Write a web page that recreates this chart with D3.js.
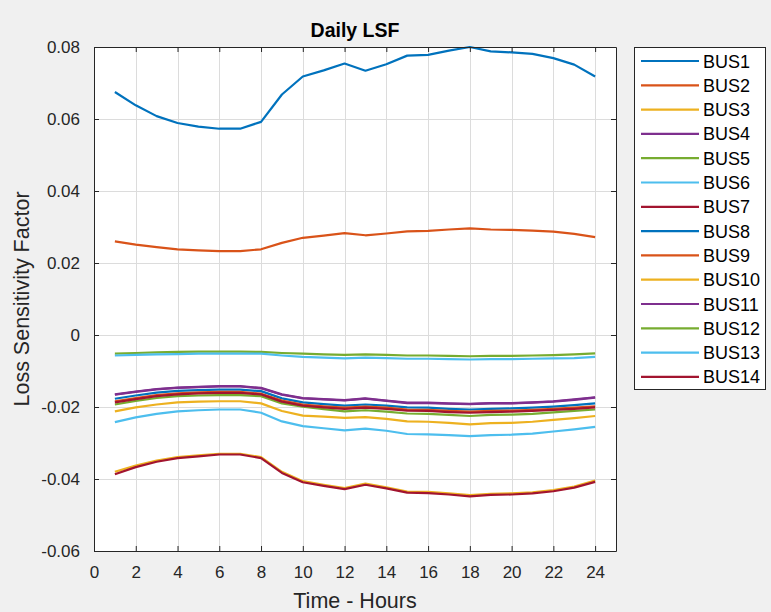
<!DOCTYPE html>
<html>
<head>
<meta charset="utf-8">
<script src="https://cdn.jsdelivr.net/npm/d3@7"></script>
<style>
  html, body { margin: 0; padding: 0; background: #f0f0f0; }
  svg { display: block; font-family: "Liberation Sans", Arial, sans-serif; }
</style>
</head>
<body>
<svg id="chart" width="771" height="612"></svg>
<script>
// Hours of the day
const hours = d3.range(1, 25);

// Loss sensitivity factor per bus, hour 1..24
const bus1  = [0.0675,0.0638,0.0608,0.0589,0.0579,0.0573,0.0573,0.0592,0.0668,0.0718,0.0735,0.0754,0.0734,0.0752,0.0776,0.0778,0.0790,0.0800,0.0788,0.0785,0.0781,0.0769,0.0751,0.0718];
const bus2  = [0.0260,0.0251,0.0244,0.0238,0.0235,0.0233,0.0233,0.0238,0.0256,0.0270,0.0276,0.0283,0.0277,0.0282,0.0288,0.0289,0.0293,0.0296,0.0293,0.0292,0.0290,0.0287,0.0281,0.0272];
const bus3  = [-0.0380,-0.0363,-0.0349,-0.0339,-0.0334,-0.0330,-0.0330,-0.0339,-0.0380,-0.0406,-0.0416,-0.0425,-0.0413,-0.0423,-0.0435,-0.0436,-0.0440,-0.0445,-0.0441,-0.0440,-0.0437,-0.0431,-0.0421,-0.0404];
const bus4  = [-0.0165,-0.0157,-0.0150,-0.0146,-0.0144,-0.0142,-0.0142,-0.0147,-0.0165,-0.0175,-0.0178,-0.0181,-0.0176,-0.0182,-0.0188,-0.0188,-0.0190,-0.0191,-0.0189,-0.0189,-0.0187,-0.0184,-0.0179,-0.0173];
const bus5  = [-0.0052,-0.0050,-0.0048,-0.0047,-0.0046,-0.0046,-0.0046,-0.0047,-0.0050,-0.0052,-0.0054,-0.0055,-0.0054,-0.0055,-0.0057,-0.0057,-0.0058,-0.0059,-0.0058,-0.0058,-0.0057,-0.0056,-0.0054,-0.0051];
const bus6  = [-0.0057,-0.0055,-0.0054,-0.0053,-0.0052,-0.0052,-0.0052,-0.0052,-0.0057,-0.0061,-0.0063,-0.0065,-0.0063,-0.0064,-0.0066,-0.0066,-0.0067,-0.0068,-0.0067,-0.0067,-0.0066,-0.0065,-0.0064,-0.0061];
const bus7  = [-0.0387,-0.0367,-0.0352,-0.0342,-0.0337,-0.0332,-0.0332,-0.0342,-0.0383,-0.0409,-0.0419,-0.0428,-0.0416,-0.0426,-0.0438,-0.0439,-0.0443,-0.0448,-0.0444,-0.0443,-0.0440,-0.0434,-0.0424,-0.0408];
const bus8  = [-0.0177,-0.0168,-0.0160,-0.0155,-0.0153,-0.0152,-0.0152,-0.0156,-0.0176,-0.0187,-0.0192,-0.0196,-0.0193,-0.0196,-0.0201,-0.0202,-0.0205,-0.0207,-0.0205,-0.0204,-0.0202,-0.0199,-0.0195,-0.0190];
const bus9  = [-0.0184,-0.0175,-0.0167,-0.0162,-0.0159,-0.0158,-0.0158,-0.0163,-0.0182,-0.0193,-0.0198,-0.0202,-0.0199,-0.0202,-0.0207,-0.0208,-0.0211,-0.0213,-0.0211,-0.0210,-0.0208,-0.0205,-0.0202,-0.0198];
const bus10 = [-0.0212,-0.0201,-0.0193,-0.0187,-0.0185,-0.0184,-0.0184,-0.0190,-0.0211,-0.0224,-0.0227,-0.0230,-0.0228,-0.0233,-0.0240,-0.0241,-0.0244,-0.0248,-0.0245,-0.0244,-0.0241,-0.0236,-0.0231,-0.0225];
const bus11 = [-0.0166,-0.0158,-0.0151,-0.0147,-0.0145,-0.0143,-0.0143,-0.0148,-0.0166,-0.0176,-0.0179,-0.0182,-0.0177,-0.0183,-0.0189,-0.0189,-0.0191,-0.0192,-0.0190,-0.0190,-0.0188,-0.0185,-0.0180,-0.0174];
const bus12 = [-0.0193,-0.0183,-0.0175,-0.0170,-0.0168,-0.0167,-0.0167,-0.0170,-0.0190,-0.0199,-0.0206,-0.0212,-0.0209,-0.0213,-0.0218,-0.0219,-0.0222,-0.0225,-0.0222,-0.0221,-0.0219,-0.0215,-0.0211,-0.0207];
const bus13 = [-0.0242,-0.0229,-0.0219,-0.0212,-0.0209,-0.0207,-0.0207,-0.0216,-0.0240,-0.0253,-0.0259,-0.0265,-0.0260,-0.0266,-0.0275,-0.0276,-0.0278,-0.0281,-0.0278,-0.0277,-0.0274,-0.0268,-0.0262,-0.0255];
const bus14 = [-0.0187,-0.0178,-0.0170,-0.0165,-0.0162,-0.0161,-0.0161,-0.0165,-0.0185,-0.0196,-0.0201,-0.0205,-0.0202,-0.0205,-0.0210,-0.0211,-0.0214,-0.0216,-0.0214,-0.0213,-0.0211,-0.0208,-0.0205,-0.0201];

const busNames = ["BUS1","BUS2","BUS3","BUS4","BUS5","BUS6","BUS7","BUS8","BUS9","BUS10","BUS11","BUS12","BUS13","BUS14"];
const busValues = [bus1,bus2,bus3,bus4,bus5,bus6,bus7,bus8,bus9,bus10,bus11,bus12,bus13,bus14];

// Default colour order, cycling every 7 series
const colorOrder = ["#0072BD","#D95319","#EDB120","#7E2F8E","#77AC30","#4DBEEE","#A2142F"];

const xTicks = d3.range(0, 25, 2);
const yTicks = [-0.06,-0.04,-0.02,0,0.02,0.04,0.06,0.08];

const svg = d3.select("#chart");
const plot = { left: 94, right: 616, top: 47, bottom: 551 };

const x = d3.scaleLinear().domain([0, 25]).range([plot.left, plot.right]);
const y = d3.scaleLinear().domain([-0.06, 0.08]).range([plot.bottom, plot.top]);
const color = (i) => colorOrder[i % colorOrder.length];
const axisColor = "#262626";
const fmt = (v) => (Math.abs(v) < 1e-12 ? "0" : d3.format(".2f")(v).replace("\u2212", "-"));

// Plot background
svg.append("rect")
  .attr("x", plot.left).attr("y", plot.top)
  .attr("width", plot.right - plot.left).attr("height", plot.bottom - plot.top)
  .attr("fill", "#ffffff");

// Grid
const grid = svg.append("g").attr("stroke", "#dcdcdc").attr("stroke-width", 1);
grid.selectAll(".gx").data(xTicks.filter(t => t > 0)).join("line")
  .attr("x1", d => Math.round(x(d)) + 0.5).attr("x2", d => Math.round(x(d)) + 0.5)
  .attr("y1", plot.top).attr("y2", plot.bottom);
grid.selectAll(".gy").data(yTicks.filter(t => t > -0.06 && t < 0.08)).join("line")
  .attr("y1", d => Math.round(y(d)) + 0.5).attr("y2", d => Math.round(y(d)) + 0.5)
  .attr("x1", plot.left).attr("x2", plot.right);

// Series
const line = d3.line().x((d, i) => x(hours[i])).y(d => y(d));
svg.append("g").selectAll("path").data(busValues).join("path")
  .attr("d", d => line(d))
  .attr("fill", "none")
  .attr("stroke", (d, i) => color(i))
  .attr("stroke-width", 2.2)
  .attr("stroke-linejoin", "round");

// Axes (ticks pointing inward, box on all sides)
const tickLen = 5;
const xAxisB = d3.axisBottom(x).tickValues(xTicks).tickFormat(d3.format("d")).tickSizeInner(-tickLen).tickSizeOuter(0).tickPadding(15);
const xAxisT = d3.axisTop(x).tickValues(xTicks).tickFormat("").tickSizeInner(-tickLen).tickSizeOuter(0);
const yAxisL = d3.axisLeft(y).tickValues(yTicks).tickFormat(fmt).tickSizeInner(-tickLen).tickSizeOuter(0).tickPadding(14);
const yAxisR = d3.axisRight(y).tickValues(yTicks).tickFormat("").tickSizeInner(-tickLen).tickSizeOuter(0);

function styleAxis(g) {
  g.selectAll("path").attr("stroke", axisColor).attr("stroke-width", 1);
  g.selectAll("line").attr("stroke", axisColor);
  g.selectAll("text").attr("fill", axisColor).style("font-size", "17px")
    .style("font-family", "'Liberation Sans', Arial, sans-serif");
}
svg.append("g").attr("transform", `translate(0,${plot.bottom})`).call(xAxisB).call(styleAxis);
svg.append("g").attr("transform", `translate(0,${plot.top})`).call(xAxisT).call(styleAxis);
svg.append("g").attr("transform", `translate(${plot.left},0)`).call(yAxisL).call(styleAxis);
svg.append("g").attr("transform", `translate(${plot.right},0)`).call(yAxisR).call(styleAxis);

// Title and axis labels
svg.append("text").attr("x", (plot.left + plot.right) / 2).attr("y", 37)
  .attr("text-anchor", "middle").attr("font-weight", "bold").attr("font-size", 19.5)
  .attr("fill", "#000").text("Daily LSF");
svg.append("text").attr("x", (plot.left + plot.right) / 2).attr("y", 608)
  .attr("text-anchor", "middle").attr("font-size", 21.5)
  .attr("fill", axisColor).text("Time - Hours");
svg.append("text")
  .attr("transform", `translate(29,${(plot.top + plot.bottom) / 2}) rotate(-90)`)
  .attr("text-anchor", "middle").attr("font-size", 21.5)
  .attr("fill", axisColor).text("Loss Sensitivity Factor");

// Legend
const leg = { x: 634, y: 47, w: 131, h: 342, row: 24.3, first: 61 };
const lg = svg.append("g");
lg.append("rect").attr("x", leg.x + 0.5).attr("y", leg.y + 0.5)
  .attr("width", leg.w).attr("height", leg.h)
  .attr("fill", "#ffffff").attr("stroke", axisColor).attr("stroke-width", 1);
const items = lg.selectAll("g.item").data(busNames).join("g")
  .attr("transform", (d, i) => `translate(0,${leg.first + i * leg.row})`);
items.append("line").attr("x1", 641).attr("x2", 699).attr("y1", 0).attr("y2", 0)
  .attr("stroke", (d, i) => color(i)).attr("stroke-width", 2.2);
items.append("text").attr("x", 703).attr("y", 6.5)
  .attr("font-size", 18).attr("fill", "#000").text(d => d);
</script>
</body>
</html>
